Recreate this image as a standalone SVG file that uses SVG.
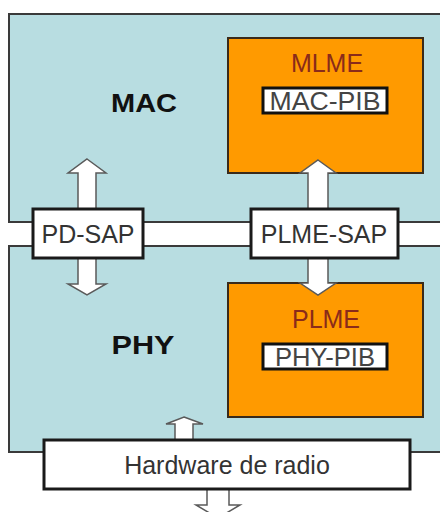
<svg xmlns="http://www.w3.org/2000/svg" width="440" height="512" viewBox="0 0 440 512">
<style>
.layer{fill:#b8dde1;stroke:#3a3a3a;stroke-width:2}
.ent{fill:#ff9a00;stroke:#3a2a1a;stroke-width:2}
.box{fill:#ffffff;stroke:#1a1a1a;stroke-width:3}
.pib{fill:#ffffff;stroke:#111;stroke-width:3}
.arr{fill:#ffffff;stroke:#5a5a5a;stroke-width:1.5;stroke-linejoin:miter}
text{font-family:"Liberation Sans",Arial,sans-serif;text-anchor:middle}
.t{font-size:25px;fill:#333}
.big{font-size:26px;font-weight:bold;fill:#111}
.red{font-size:25px;fill:#8a2b1a}
.pt{font-size:25px;fill:#444}
</style>
<rect x="0" y="0" width="440" height="512" fill="#ffffff"/>
<g id="band">
<rect x="0" y="222" width="440" height="24" fill="#ffffff"/>
</g>
<g id="mac">
<rect class="layer" x="9" y="14" width="440" height="208"/>
<text class="big" x="144" y="112" textLength="66" lengthAdjust="spacingAndGlyphs">MAC</text>
</g>
<g id="phy">
<rect class="layer" x="9" y="246" width="440" height="206"/>
<text class="big" x="143" y="354" textLength="63" lengthAdjust="spacingAndGlyphs">PHY</text>
</g>
<g id="mlme">
<rect class="ent" x="228" y="38" width="195" height="135"/>
<text class="red" x="327" y="72">MLME</text>
<rect class="pib" x="263" y="88" width="124" height="25"/>
<text class="pt" x="325" y="110" textLength="111" lengthAdjust="spacingAndGlyphs">MAC-PIB</text>
</g>
<g id="plme">
<rect class="ent" x="228" y="283" width="195" height="134"/>
<text class="red" x="326" y="328">PLME</text>
<rect class="pib" x="263" y="344" width="124" height="25"/>
<text class="pt" x="325" y="366" textLength="100" lengthAdjust="spacingAndGlyphs">PHY-PIB</text>
</g>
<g id="connectors">
<polygon class="arr" points="87,159 106,173 96,173 96,284 106,284 87,295 68,284 78,284 78,173 68,173"/>
<polygon class="arr" points="318,160 336,173 328,173 328,283 336,283 318,295 300,283 308,283 308,173 300,173"/>
<polygon class="arr" points="184,417 203,424 193,424 193,440 175,440 175,424 166,424"/>
<polygon class="arr" points="207,488 229,488 229,505 240,505 218,518 196,505 207,505"/>
</g>
<g id="pd-sap">
<rect class="box" x="33" y="209" width="110" height="49"/>
<text class="t" x="88" y="243">PD-SAP</text>
</g>
<g id="plme-sap">
<rect class="box" x="251" y="209" width="147" height="49"/>
<text class="t" x="324" y="243">PLME-SAP</text>
</g>
<g id="hardware">
<rect class="box" x="44" y="440" width="366" height="49"/>
<text class="t" x="227" y="474">Hardware de radio</text>
</g>
</svg>
